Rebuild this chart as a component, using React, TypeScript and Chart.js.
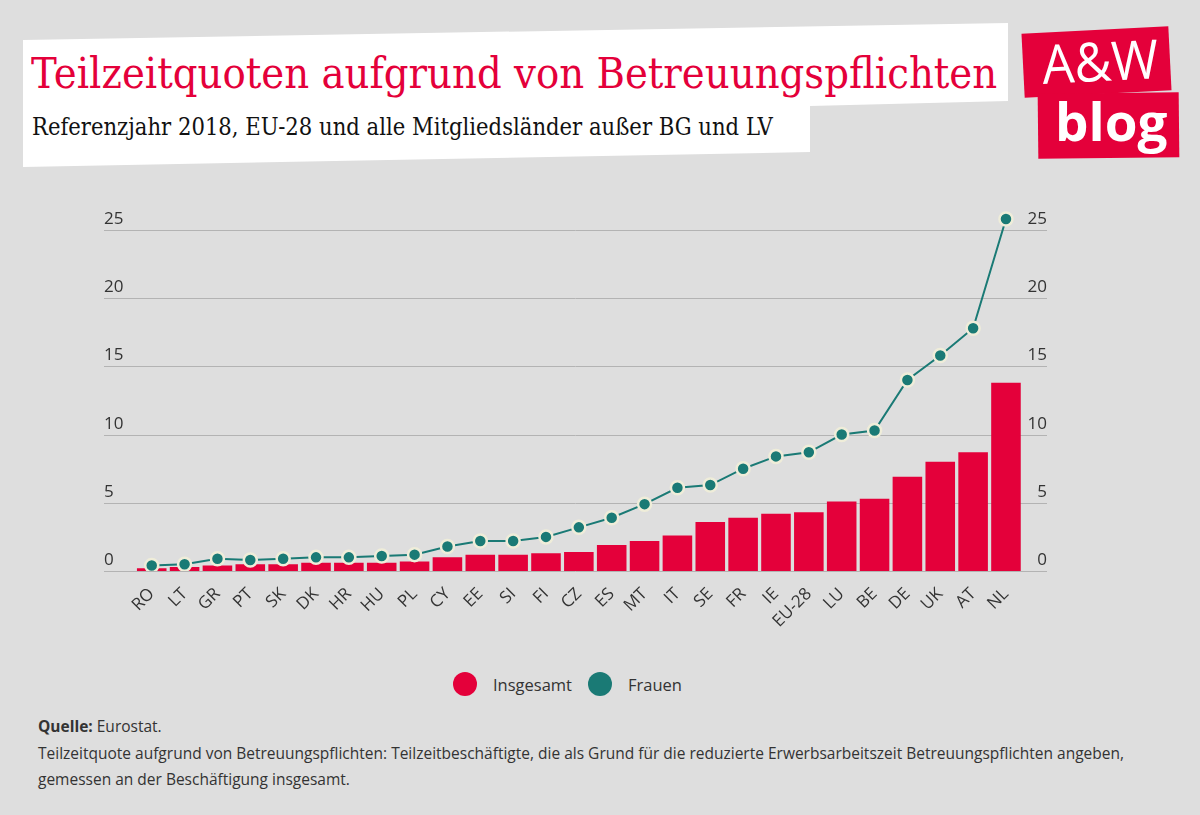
import React, { useEffect, useLayoutEffect, useRef } from "react";
import { Chart, registerables } from "chart.js";

Chart.register(...registerables);

const categories = ["RO", "LT", "GR", "PT", "SK", "DK", "HR", "HU", "PL", "CY", "EE", "SI", "FI", "CZ", "ES", "MT", "IT", "SE", "FR", "IE", "EU-28", "LU", "BE", "DE", "UK", "AT", "NL"];
const insgesamt = [0.2, 0.3, 0.4, 0.5, 0.5, 0.6, 0.6, 0.6, 0.7, 1.0, 1.2, 1.2, 1.3, 1.4, 1.9, 2.2, 2.6, 3.6, 3.9, 4.2, 4.3, 5.1, 5.3, 6.9, 8.0, 8.7, 13.8];
const frauen = [0.4, 0.5, 0.9, 0.8, 0.9, 1.0, 1.0, 1.1, 1.2, 1.8, 2.2, 2.2, 2.5, 3.2, 3.9, 4.9, 6.1, 6.3, 7.5, 8.4, 8.7, 10.0, 10.3, 14.0, 15.8, 17.8, 25.8];
const yMin = 0;
const yMax = 26.5;
const yStep = 5;
const seriesNames = ["Insgesamt", "Frauen"];

const RED = "#e4003a";
const TEAL = "#1a7a75";
const BG = "#dedede";
const SANS = '"Open Sans", "Noto Sans", sans-serif';
const SERIF = '"DejaVu Serif", serif';

const yGridPlugin = {
  id: "yGridBoth",
  beforeDatasetsDraw(chart: any) {
    const { ctx } = chart;
    const y = chart.scales.y;
    ctx.save();
    ctx.font = `17px ${SANS}`;
    ctx.fillStyle = "#333333";
    ctx.textBaseline = "alphabetic";
    y.ticks.forEach((t: any) => {
      const py = Math.round(y.getPixelForValue(t.value)) + 0.5;
      ctx.strokeStyle = "#b3b3b3";
      ctx.lineWidth = 1;
      ctx.beginPath();
      ctx.moveTo(104, py);
      ctx.lineTo(1047, py);
      ctx.stroke();
      const label = String(t.value);
      ctx.textAlign = "left";
      ctx.fillText(label, 104, py - 7);
      ctx.textAlign = "right";
      ctx.fillText(label, 1047, py - 7);
    });
    ctx.restore();
  },
};

function FitText(props: { text: React.ReactNode; width: number; style: React.CSSProperties; rotate?: number }) {
  const ref = useRef<HTMLSpanElement>(null);
  useLayoutEffect(() => {
    const el = ref.current;
    if (!el) return;
    el.style.transform = "none";
    const w = el.offsetWidth;
    const s = w > 0 ? props.width / w : 1;
    el.style.transform = `rotate(${props.rotate || 0}deg) scaleX(${s})`;
  }, [props.width, props.rotate]);
  return (
    <span
      ref={ref}
      style={{
        position: "absolute",
        display: "inline-block",
        whiteSpace: "nowrap",
        lineHeight: 1,
        transformOrigin: "left center",
        ...props.style,
      }}
    >
      {props.text}
    </span>
  );
}

function ChartCanvas() {
  const ref = useRef<HTMLCanvasElement>(null);
  useEffect(() => {
    if (!ref.current) return;
    const chart = new Chart(ref.current, {
      type: "bar",
      data: {
        labels: categories,
        datasets: [
          {
            type: "line",
            label: seriesNames[1],
            data: frauen,
            borderColor: TEAL,
            borderWidth: 2,
            backgroundColor: TEAL,
            pointBackgroundColor: TEAL,
            pointBorderColor: "#efedd9",
            pointBorderWidth: 2.5,
            pointRadius: 6.5,
            tension: 0,
            order: 0,
          } as any,
          {
            type: "bar",
            label: seriesNames[0],
            data: insgesamt,
            backgroundColor: RED,
            borderWidth: 0,
            barPercentage: 0.9,
            categoryPercentage: 1,
            order: 1,
          },
        ],
      },
      options: {
        responsive: false,
        animation: false,
        devicePixelRatio: 1,
        layout: { padding: { left: 135.3, right: 177.6, top: 19.5, bottom: 0 } },
        plugins: { legend: { display: false }, tooltip: { enabled: false } },
        scales: {
          x: {
            offset: true,
            grid: { display: false },
            border: { display: false },
            ticks: {
              color: "#333333",
              font: { family: SANS, size: 17 },
              minRotation: 45,
              maxRotation: 45,
              padding: 5,
              autoSkip: false,
            },
            afterFit: (s: any) => {
              s.height = 59;
            },
          },
          y: {
            display: false,
            min: yMin,
            max: yMax,
            ticks: { stepSize: yStep, includeBounds: false },
          },
        },
      },
      plugins: [yGridPlugin],
    });
    return () => chart.destroy();
  }, []);
  return (
    <canvas
      ref={ref}
      width={1200}
      height={440}
      style={{ position: "absolute", left: 0, top: 190, width: 1200, height: 440 }}
    />
  );
}

export default function App() {
  return (
    <div
      style={{
        position: "absolute",
        left: 0,
        top: 0,
        width: 1200,
        height: 815,
        background: BG,
        overflow: "hidden",
        fontFamily: SANS,
      }}
    >
      <div
        style={{
          position: "absolute",
          left: 0,
          top: 0,
          width: 1200,
          height: 200,
          background: "#ffffff",
          clipPath: "polygon(23px 40px, 1008px 23px, 1008px 101px, 810px 106px, 810px 152px, 23px 167px)",
        }}
      />
      <FitText
        text="Teilzeitquoten aufgrund von Betreuungspflichten"
        width={966}
        style={{ left: 31, top: 52, fontFamily: SERIF, fontSize: 43, color: RED }}
      />
      <FitText
        text="Referenzjahr 2018, EU-28 und alle Mitgliedsländer außer BG und LV"
        width={741}
        style={{ left: 32, top: 115, fontFamily: SERIF, fontSize: 24, color: "#111111" }}
      />
      <div
        style={{
          position: "absolute",
          left: 1023,
          top: 30,
          width: 147,
          height: 64,
          background: RED,
          transform: "rotate(-2.9deg)",
        }}
      />
      <div
        style={{
          position: "absolute",
          left: 1038,
          top: 93,
          width: 141,
          height: 65,
          background: RED,
          transform: "rotate(-0.6deg)",
        }}
      />
      <FitText
        text="A&W"
        width={116}
        rotate={-2.9}
        style={{ left: 1042, top: 36, fontFamily: SANS, fontSize: 54, color: "#ffffff" }}
      />
      <FitText
        text="blog"
        width={112}
        style={{ left: 1055, top: 95, fontFamily: SANS, fontSize: 52, fontWeight: 700, color: "#ffffff" }}
      />
      <ChartCanvas />
      <div style={{ position: "absolute", left: 453, top: 672, width: 24, height: 24, borderRadius: 12, background: RED }} />
      <div style={{ position: "absolute", left: 493, top: 677, fontSize: 16.5, lineHeight: 1, color: "#333333", whiteSpace: "nowrap" }}>
        {seriesNames[0]}
      </div>
      <div style={{ position: "absolute", left: 588, top: 672, width: 24, height: 24, borderRadius: 12, background: TEAL }} />
      <div style={{ position: "absolute", left: 628, top: 677, fontSize: 16.5, lineHeight: 1, color: "#333333", whiteSpace: "nowrap" }}>
        {seriesNames[1]}
      </div>
      <div
        style={{
          position: "absolute",
          left: 38,
          top: 713,
          fontSize: 15.5,
          lineHeight: "26.7px",
          color: "#333333",
          whiteSpace: "nowrap",
        }}
      >
        <b>Quelle:</b> Eurostat.
        <br />
        Teilzeitquote aufgrund von Betreuungspflichten: Teilzeitbeschäftigte, die als Grund für die reduzierte Erwerbsarbeitszeit Betreuungspflichten angeben,
        <br />
        gemessen an der Beschäftigung insgesamt.
      </div>
    </div>
  );
}
